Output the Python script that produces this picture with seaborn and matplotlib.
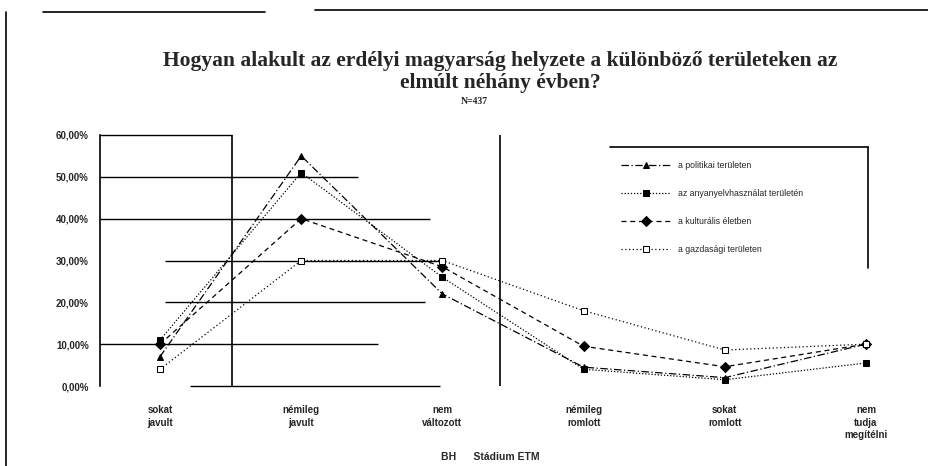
import numpy as np
import pandas as pd
import matplotlib
matplotlib.use("Agg")
import matplotlib.pyplot as plt
import seaborn as sns
from matplotlib.lines import Line2D

# Data (percent)
categories = ["sokat\njavult", "némileg\njavult", "nem\nváltozott",
              "némileg\nromlott", "sokat\nromlott", "nem\ntudja\nmegítélni"]
series_names = ["a politikai területen", "az anyanyelvhasználat területén",
                "a kulturális életben", "a gazdasági területen"]
politikai = [7, 55, 22, 4.5, 2, 10]
anyanyelv = [11, 51, 26, 4, 1.5, 5.5]
kulturalis = [10, 40, 28.5, 9.5, 4.6, 10]
gazdasagi = [4, 30, 30, 18, 8.6, 10]
y_ticks = [0, 10, 20, 30, 40, 50, 60]
y_labels = ["0,00%", "10,00%", "20,00%", "30,00%", "40,00%", "50,00%", "60,00%"]

rows = []
for name, vals in zip(series_names, [politikai, anyanyelv, kulturalis, gazdasagi]):
    for i, v in enumerate(vals):
        rows.append({"sorozat": name, "x": i, "ertek": v})
df = pd.DataFrame(rows)

sns.set_theme(style="white")
plt.rcParams["font.family"] = ["Liberation Serif", "DejaVu Serif"]

fig = plt.figure(figsize=(9.29, 4.66), dpi=100)
ax = fig.add_axes([100 / 929, 1 - 386 / 466, 810 / 929, 251 / 466])

styles = {
    "a politikai területen": dict(linestyle=(0, (6, 2, 1, 2)), marker="^", mfc="black"),
    "az anyanyelvhasználat területén": dict(linestyle=(0, (1, 1.5)), marker="s", mfc="black"),
    "a kulturális életben": dict(linestyle=(0, (4, 3)), marker="D", mfc="black"),
    "a gazdasági területen": dict(linestyle=(0, (1, 2)), marker="s", mfc="white"),
}

# background grid pieces (as in the scanned original)
grid_pieces = [(0, 190, 440), (10, 100, 378), (20, 165, 425), (30, 165, 440),
               (40, 100, 430), (50, 100, 358), (60, 100, 232)]
def px2x(p):
    return (p - 160) / 141.2
for yv, a, b in grid_pieces:
    ax.hlines(yv, px2x(a), px2x(b), color="black", lw=1.0, zorder=1, clip_on=False)
ax.vlines([px2x(232), px2x(500)], 0, 60, color="black", lw=1.2, zorder=1)

for name in series_names:
    st = styles[name]
    sub = df[df["sorozat"] == name]
    sns.lineplot(data=sub, x="x", y="ertek", ax=ax, color="black", lw=0.9,
                 linestyle=st["linestyle"], marker=st["marker"], markersize=5,
                 markerfacecolor=st["mfc"], markeredgecolor="black", label=name,
                 zorder=3)

ax.set_xlim(px2x(100), px2x(910))
ax.set_ylim(0, 60)
ax.set_xticks(range(len(categories)))
ax.set_xticklabels(categories, fontsize=7, fontweight="bold",
                   family=["Liberation Sans", "DejaVu Sans"], linespacing=1.3)
ax.set_yticks(y_ticks)
ax.set_yticklabels(y_labels, fontsize=7, fontweight="bold",
                   family=["Liberation Sans", "DejaVu Sans"])
ax.tick_params(axis="both", length=0, pad=8)
ax.tick_params(axis="x", pad=14)
ax.set_xlabel("")
ax.set_ylabel("")
for s in ["top", "right", "bottom"]:
    ax.spines[s].set_visible(False)
ax.spines["left"].set_color("black")
ax.spines["left"].set_linewidth(1.2)

leg = ax.legend(loc="upper left", bbox_to_anchor=((618 - 100) / 810, (386 - 158) / 251),
                frameon=False, fontsize=6.3, handlelength=5.5, handletextpad=1.0,
                labelspacing=2.15, borderaxespad=0)
for t in leg.get_texts():
    t.set_family(["Liberation Sans", "DejaVu Sans"])

# legend frame (top and right edges only) and page border
fig.add_artist(Line2D([610 / 929, 868 / 929], [1 - 147 / 466, 1 - 147 / 466], color="black", lw=1.2))
fig.add_artist(Line2D([868 / 929, 868 / 929], [1 - 147 / 466, 1 - 268 / 466], color="black", lw=1.2))
fig.add_artist(Line2D([6 / 929, 6 / 929], [1 - 12 / 466, 0], color="black", lw=1.2))
fig.add_artist(Line2D([43 / 929, 265 / 929], [1 - 12 / 466, 1 - 12 / 466], color="black", lw=1.2))
fig.add_artist(Line2D([315 / 929, 1], [1 - 10 / 466, 1 - 10 / 466], color="black", lw=1.2))

fig.text(500 / 929, 1 - 72 / 466,
         "Hogyan alakult az erdélyi magyarság helyzete a különböző területeken az\nelmúlt néhány évben?",
         ha="center", va="center", fontsize=15.5, fontweight="bold", linespacing=1.15)
fig.text(474 / 929, 1 - 101 / 466, "N=437", ha="center", va="center", fontsize=7, fontweight="bold")
fig.text(490 / 929, 1 - 457 / 466, "BH      Stádium ETM", ha="center", va="center",
         fontsize=7.5, fontweight="bold", family=["Liberation Sans", "DejaVu Sans"])

fig.savefig("out.png", dpi=100, facecolor="white")
